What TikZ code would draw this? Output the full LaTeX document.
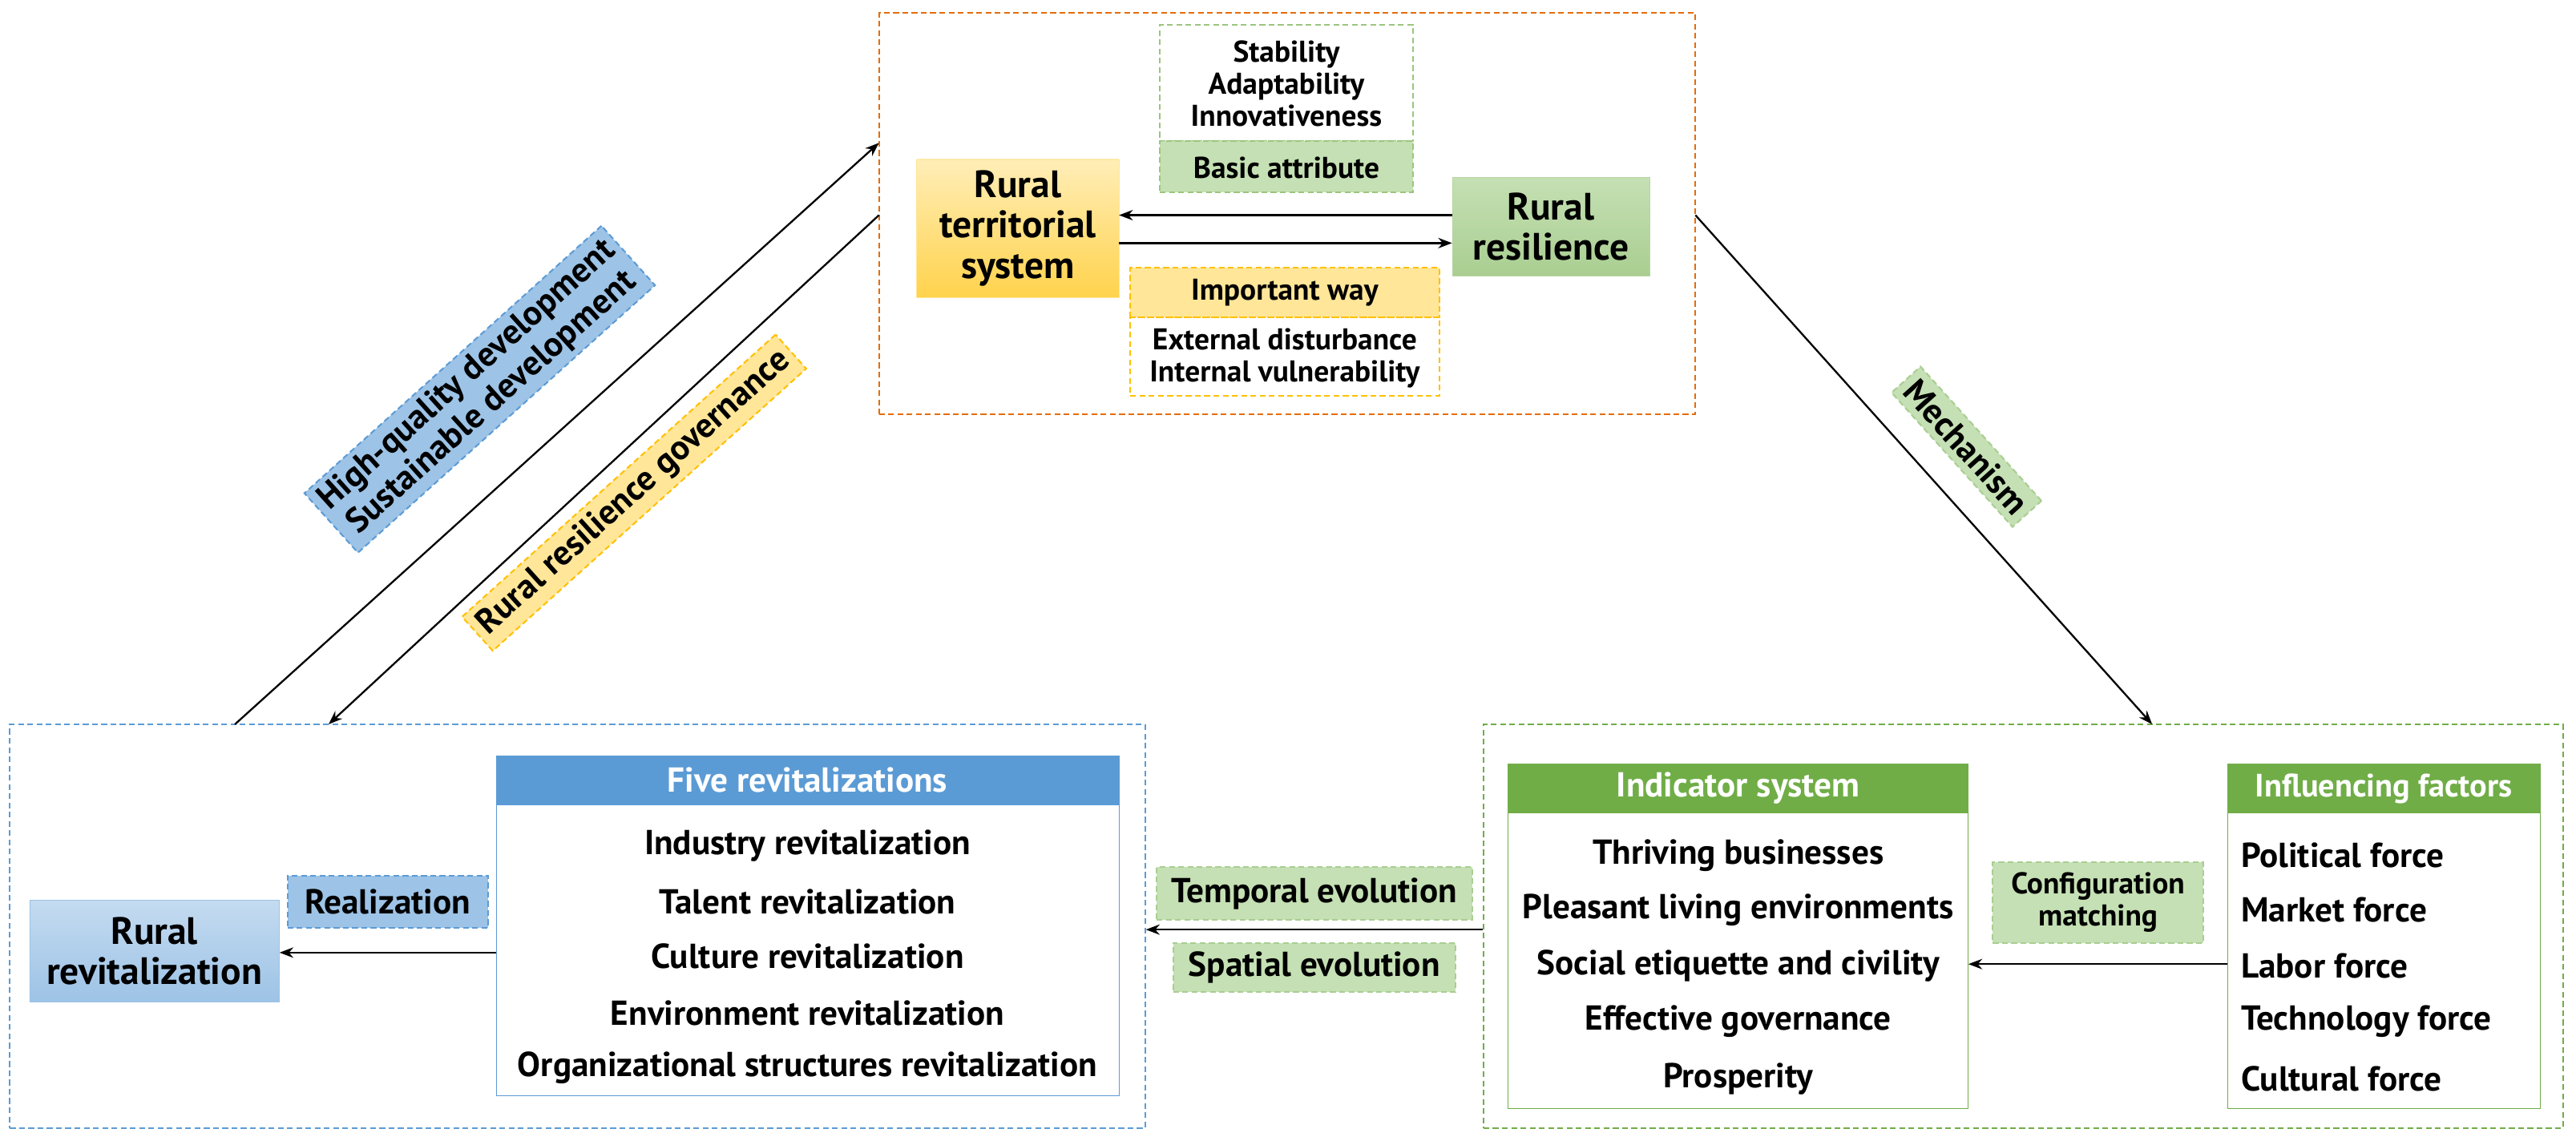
\documentclass[tikz,border=0pt]{standalone}
\usepackage{fontspec}
\setmainfont{PT Sans}
\usetikzlibrary{arrows.meta,positioning}
\definecolor{ob}{HTML}{E46C0A}
\definecolor{gb}{HTML}{70AD47}
\definecolor{lg}{HTML}{C5E0B4}
\definecolor{bb}{HTML}{5B9BD5}
\definecolor{lb}{HTML}{9DC3E6}
\definecolor{yb}{HTML}{FFC000}
\definecolor{ly}{HTML}{FFE699}
\def\u{0.05cm}
\tikzset{
 every node/.style={font=\bfseries\fontsize{26}{28}\selectfont, align=center, inner sep=0pt},
 it/.style={font=\bfseries\fontsize{30}{32}\selectfont},
 big/.style={font=\bfseries\fontsize{33}{35}\selectfont},
 bx/.style={draw, line width=1pt, rectangle},
 dsh/.style={dashed, line width=1.4pt, dash pattern=on 5pt off 3pt},
 arr/.style={-{Stealth[length=12pt,width=9pt]}, line width=1.6pt},
}
\newcommand{\bxat}[6]{% name, x1,y1,x2,y2, style
 \node[#6, minimum width={(#4-#2)*\u}, minimum height={(#5-#3)*\u}] (#1) at ({(#2+#4)/2},{(#3+#5)/2}) {};}
\begin{document}
\begin{tikzpicture}[x=\u,y=-\u]
\useasboundingbox[fill=white] (0,0) rectangle (1568,697);
% outer boxes
\bxat{top}{535}{8}{1032}{252}{draw=ob,dsh}
\bxat{left}{6}{441}{697}{687}{draw=bb,dsh}
\bxat{right}{903}{441}{1560}{687}{draw=gb,dsh}
% top contents
\bxat{attr}{706}{15}{860}{86}{draw=gb!70,dsh}
\node at (783,51) {Stability\\Adaptability\\Innovativeness};
\bxat{basic}{706}{86}{860}{117}{draw=gb!70,dsh,fill=lg}
\node at (783,102) {Basic attribute};
\bxat{rts}{558}{97}{681}{181}{top color=ly!70,bottom color=yb!70, draw=yb!40}
\node[big] at (619.5,139) {Rural\\territorial\\system};
\bxat{rr}{884}{108}{1004}{168}{top color=lg, bottom color=gb!60, draw=gb!50}
\node[big] at (944,138) {Rural\\resilience};
\draw[arr] (rr.west|-0,131) -- (rts.east|-0,131);
\draw[arr] (rts.east|-0,148) -- (rr.west|-0,148);
\bxat{imp}{688}{163}{876}{193}{draw=yb,dsh,fill=ly}
\node at (782,178) {Important way};
\bxat{ext}{688}{193}{876}{241}{draw=yb,dsh}
\node at (782,218) {External disturbance\\Internal vulnerability};
% left contents
\bxat{five}{302}{460}{681}{667}{draw=bb}
\bxat{fiveh}{302}{460}{681}{490}{draw=bb,fill=bb}
\node[it,text=white] at (491.5,475) {Five revitalizations};
\foreach \t/\y in {Industry revitalization/515,Talent revitalization/549,Culture revitalization/582,Environment revitalization/617,Organizational structures revitalization/650}
 \node[it] at (491.5,\y) {\t};
\bxat{rv}{18}{548}{170}{610}{top color=lb!60,bottom color=lb, draw=lb}
\node[big] at (94,579) {Rural\\revitalization};
\bxat{real}{175}{533}{297}{565}{draw=bb,dsh,fill=lb}
\node[it] at (236,549) {Realization};
\draw[arr] (five.west|-0,580) -- (rv.east|-0,580);
% right contents
\bxat{ind}{918}{465}{1198}{675}{draw=gb}
\bxat{indh}{918}{465}{1198}{495}{draw=gb,fill=gb}
\node[it,text=white] at (1058,480) {Indicator system};
\foreach \t/\y in {Thriving businesses/521,Pleasant living environments/554,Social etiquette and civility/588,Effective governance/622,Prosperity/657}
 \node[it] at (1058,\y) {\t};
\bxat{inf}{1356}{465}{1546}{675}{draw=gb}
\bxat{infh}{1356}{465}{1546}{495}{draw=gb,fill=gb}
\node[text=white,font=\bfseries\fontsize{28}{30}\selectfont] at (1451,480) {Influencing factors};
\foreach \t/\y in {Political force/521,Market force/554,Labor force/588,Technology force/622,Cultural force/657}
 \node[it,anchor=west] at (1364,\y) {\t};
\bxat{conf}{1213}{525}{1341}{574}{draw=gb!60,dsh,fill=lg}
\node at (1277,549.5) {Configuration\\matching};
\draw[arr] (inf.west|-0,587) -- (ind.east|-0,587);
\bxat{temp}{704}{528}{896}{560}{draw=gb!60,dsh,fill=lg}
\node[it] at (800,544) {Temporal evolution};
\bxat{spat}{714}{574}{886}{604}{draw=gb!60,dsh,fill=lg}
\node[it] at (800,589) {Spatial evolution};
\draw[arr] (right.west|-0,566) -- (left.east|-0,566);
% diagonals
\coordinate (a1) at (143,441); \coordinate (a2) at (535,87);
\coordinate (b1) at (535,131); \coordinate (b2) at (200,441);
\coordinate (c1) at (1032,131); \coordinate (c2) at (1310,441);
\draw[arr] (a1) -- (a2);
\draw[arr] (b1) -- (b2);
\draw[arr] (c1) -- (c2);
\node[it,rotate=42, draw=bb, dsh, fill=lb, inner xsep=6pt, inner ysep=5pt] (hq) at (292,237) {High-quality development\\Sustainable development};
\node[it,rotate=42, draw=yb, dsh, fill=ly, inner xsep=6pt, inner ysep=6pt] (rg) at (386,300) {Rural resilience governance};
\node[it,rotate=-48, draw=gb!60, dsh, fill=lg, inner xsep=6pt, inner ysep=6pt] (me) at (1197,272) {Mechanism};
\end{tikzpicture}
\end{document}
